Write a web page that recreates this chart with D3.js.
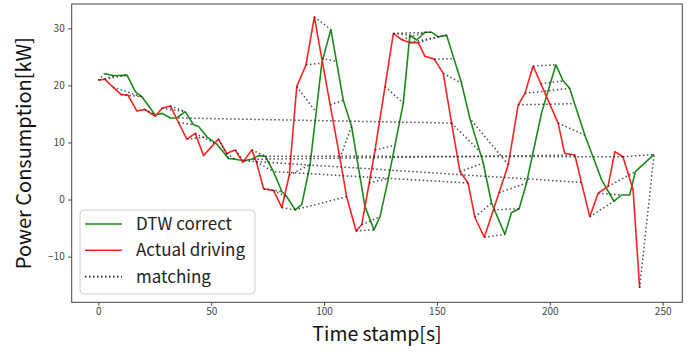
<!DOCTYPE html>
<html>
<head>
<meta charset="utf-8">
<script src="https://cdn.jsdelivr.net/npm/d3@7"></script>
<style>
  html, body { margin: 0; padding: 0; background: #fff; }
  svg { display: block; }
</style>
</head>
<body>
<svg id="chart" width="694" height="354"></svg>
<script>
// ---- data ----
const redTimes = [0,2.8,6.5,10.2,13.1,17.1,20.5,25.2,28.2,31.9,35.5,39.2,42.9,46.6,53.2,56.9,60.6,64.0,68,70,73.2,77.6,81.3,84.6,87.9,92,95.7,99,102.7,107,110,114.2,116.7,120,122.6,127,130.7,134.4,138,141.7,144.7,148.8,152.8,156.5,160.2,163.8,166.8,171,175,177.5,181.6,186,189,192.6,196,203.7,206.6,211.1,214,217.7,221.4,225.8,228.8,232.4,236.9,239.8];
const redValues = [20.9,21.1,19.7,18.4,18.3,15.5,15.8,14.6,16.0,16.4,13.5,10.6,11.6,7.7,10.6,8.1,8.7,6.5,8.7,6.6,1.9,1.6,-1.4,4.3,19.8,23.6,32.0,24.7,16.6,7.3,0.5,-5.5,-4.4,2.9,8.7,19.8,29.1,28.0,27.5,27.5,25.1,24.6,22.1,13.4,4.9,2.9,-3.1,-6.6,-1.8,1.2,6.1,16.6,18.6,23.4,20.3,13.4,8.1,7.8,3.0,-3.0,1.1,2.3,8.4,7.5,1.7,-15.5];

const greenTimes = [2.8,6.8,12.7,16.4,19.3,25.2,28.2,31.9,34.8,38.5,42.2,44.4,48.1,52.5,57.7,60.6,64.3,68,70.9,73.9,77.6,81.3,83.5,87.2,90.1,93.8,96.5,99,103,105.5,108.5,112.2,118.1,122.1,124.8,128.5,131.4,135.1,138,141,144.7,147.7,150.6,154.3,157.5,160.9,164.6,169,170.5,174.2,180.1,183,186.4,189.7,196.3,202.7,205.9,208.8,211,215.5,222.9,228.4,231.7,235.4,237.9,246.2];
const greenValues = [22.1,21.7,21.8,18.9,18.0,14.8,15.1,14.3,14.3,15.4,13.1,12.8,11.0,9.7,7.2,7.05,6.8,7.05,7.7,7.6,4.9,1.4,0.5,-1.8,-0.9,6.1,15.3,23.9,29.8,24.2,17.4,12.8,-1.2,-5.3,-3.0,3.7,9.5,16.9,28.8,27.95,29.3,29.3,28.5,28.8,24.7,20.4,14.2,8.4,6.4,-0.6,-6.1,-2.3,-1.6,2.9,15.1,23.6,20.8,19.5,16.8,11.3,3.5,-0.3,0.8,0.8,4.9,7.9];

// matching pairs: [time on "Actual driving", time on "DTW correct"]
const matchRedTimes   = [0,2.8,2.8,6.5,10.2,20.5,28.2,31.9,35.5,39.2,42.9,53.2,56.9,60.6,68,70,73.2,77.6,81.3,110,84.6,87.9,92,99,95.7,102.7,107,114.2,116.7,120,122.6,127,130.7,130.7,138,141.7,134.4,148.8,152.8,156.5,160.2,166.8,171,175,177.5,181.6,186,189,196,192.6,203.7,217.7,221.4,225.8,232.4,239.8,156.5,211.1,232.4,214,163.8];
const matchGreenTimes = [2.8,6.8,12.7,19.3,19.3,25.2,38.5,38.5,42.2,48.1,52.5,57.7,60.6,64.3,73.9,77.6,81.3,83.5,87.2,87.2,93.8,96.5,99,105.5,103,108.5,112.2,122.1,124.8,128.5,131.4,135.1,138,147.7,154.3,150.6,144.7,157.5,160.9,169,170.5,174.2,180.1,186.4,189.7,164.6,211,208.8,205.9,202.7,215.5,228.4,231.7,237.9,246.2,246.2,34.8,68,73.9,64.3,77.6];

const xTicks = [0,50,100,150,200,250];
const yTicks = [-10,0,10,20,30];
const seriesNames = ["DTW correct","Actual driving","matching"];

// ---- layout ----
const FONT = "'Noto Sans CJK JP','Noto Sans',sans-serif";
const plot = {left: 71.7, right: 682.3, top: 4, bottom: 302.3};
const svg = d3.select("#chart");

const x = d3.scaleLinear().domain([-11.8, 258.7]).range([plot.left, plot.right]);
const y = d3.scaleLinear().domain([-18, 34.26]).range([plot.bottom, plot.top]);

const red = redTimes.map((t,i)=>({t, v: redValues[i]}));
const green = greenTimes.map((t,i)=>({t, v: greenValues[i]}));
const redAt = t => red.find(d=>d.t===t);
const greenAt = t => green.find(d=>d.t===t);

const line = d3.line().x(d=>x(d.t)).y(d=>y(d.v));

// series
svg.append("path").datum(green).attr("d", line)
  .attr("fill","none").attr("stroke","#1a8a1a").attr("stroke-width",1.6).attr("stroke-linejoin","round");
svg.append("path").datum(red).attr("d", line)
  .attr("fill","none").attr("stroke","#ff2222").attr("stroke-width",1.6).attr("stroke-linejoin","round");

// matching
const pairs = matchRedTimes.map((t,i)=>[redAt(t), greenAt(matchGreenTimes[i])]).filter(p=>p[0]&&p[1]);
svg.append("g").selectAll("line").data(pairs).join("line")
  .attr("x1",p=>x(p[0].t)).attr("y1",p=>y(p[0].v))
  .attr("x2",p=>x(p[1].t)).attr("y2",p=>y(p[1].v))
  .attr("stroke","#222").attr("stroke-opacity",0.8).attr("stroke-width",1.5)
  .attr("stroke-dasharray","1.5,2.5");

// frame
svg.append("rect").attr("x",plot.left).attr("y",plot.top)
  .attr("width",plot.right-plot.left).attr("height",plot.bottom-plot.top)
  .attr("fill","none").attr("stroke","#444").attr("stroke-width",1);

// axes
const xAxis = d3.axisBottom(x).tickValues(xTicks).tickSize(3.5).tickPadding(2.5).tickFormat(d3.format("d"));
const gx = svg.append("g").attr("transform",`translate(0,${plot.bottom})`).call(xAxis);
const yAxis = d3.axisLeft(y).tickValues(yTicks).tickSize(3.5).tickPadding(3.5).tickFormat(d=>d<0?"\u2212"+Math.abs(d):d);
const gy = svg.append("g").attr("transform",`translate(${plot.left},0)`).call(yAxis);
[gx,gy].forEach(g=>{
  g.select(".domain").remove();
  g.selectAll(".tick line").attr("stroke","#444");
  g.selectAll(".tick text").attr("fill","#444").style("font-family",FONT).style("font-size","10px");
});

// axis labels
svg.append("text").attr("x",(plot.left+plot.right)/2).attr("y",341)
  .attr("text-anchor","middle").style("font-family",FONT).style("font-size","19.5px").attr("fill","#111")
  .text("Time stamp[s]");
svg.append("text").attr("transform",`translate(31,${(plot.top+plot.bottom)/2}) rotate(-90)`)
  .attr("text-anchor","middle").style("font-family",FONT).style("font-size","20px").attr("fill","#111")
  .text("Power Consumption[kW]");

// legend
const lg = svg.append("g");
lg.append("rect").attr("x",80).attr("y",210).attr("width",175).attr("height",84).attr("rx",4)
  .attr("fill","#fff").attr("fill-opacity",0.85).attr("stroke","#d0d0d0");
const styles = [
  {stroke:"#1a8a1a", dash:null},
  {stroke:"#ff2222", dash:null},
  {stroke:"#222", dash:"1.5,2.5"}
];
seriesNames.forEach((name,i)=>{
  const cy = 224 + i*26.3;
  lg.append("line").attr("x1",85).attr("x2",122).attr("y1",cy).attr("y2",cy)
    .attr("stroke",styles[i].stroke).attr("stroke-width",1.6)
    .attr("stroke-dasharray",styles[i].dash);
  lg.append("text").attr("x",136).attr("y",cy).attr("dy","0.36em")
    .style("font-family",FONT).style("font-size","17px").attr("fill","#222").text(name);
});
</script>
</body>
</html>
